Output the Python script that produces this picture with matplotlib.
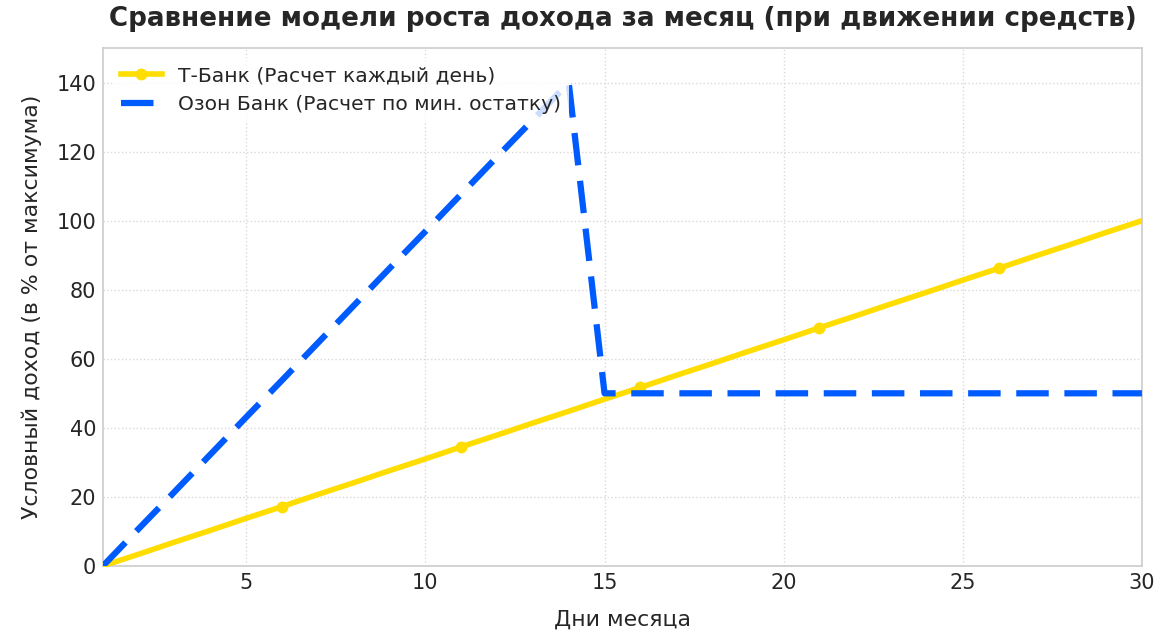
import numpy as np
import matplotlib.pyplot as plt

# days of month and the two income models (% of max)
days = np.arange(1, 31)
tbank = [0, 3.4, 6.9, 10.3, 13.8, 17.2, 20.7, 24.1, 27.6, 31.0,
         34.5, 37.9, 41.4, 44.8, 48.3, 51.7, 55.2, 58.6, 62.1, 65.5,
         69.0, 72.4, 75.9, 79.3, 82.8, 86.2, 89.7, 93.1, 96.6, 100]
ozon = [0, 10.8, 21.5, 32.3, 43.1, 53.8, 64.6, 75.4, 86.2, 96.9,
        107.7, 118.5, 129.2, 140, 50, 50, 50, 50, 50, 50,
        50, 50, 50, 50, 50, 50, 50, 50, 50, 50]
xticks = [5, 10, 15, 20, 25, 30]
yticks = [0, 20, 40, 60, 80, 100, 120, 140]

txt = '#262626'
plt.rcParams['font.family'] = ['DejaVu Sans']

fig = plt.figure(figsize=(11.7, 6.33), dpi=100)
ax = fig.add_axes([0.088, 0.106, 0.888, 0.818])

ax.plot(days, tbank, color='#FFDD00', lw=4, marker='o', markevery=5, ms=7.5,
        label='Т-Банк (Расчет каждый день)', zorder=3)
ax.plot(days, ozon, color='#005BFF', lw=4.5, ls='--', dashes=(5.2, 2.5),
        label='Озон Банк (Расчет по мин. остатку)', zorder=4)

ax.set_xlim(1, 30)
ax.set_ylim(0, 150)
ax.set_xticks(xticks)
ax.set_yticks(yticks)
ax.tick_params(length=0, labelsize=15, colors=txt, pad=5)
ax.grid(True, ls=':', color='#d9d9d9', lw=1)
for s in ax.spines.values():
    s.set_color('#cccccc')
    s.set_linewidth(1.2)

ax.set_title('Сравнение модели роста дохода за месяц (при движении средств)',
             fontsize=18.8, fontweight='bold', color=txt, pad=16)
ax.set_xlabel('Дни месяца', fontsize=15.8, color=txt, labelpad=12)
ax.set_ylabel('Условный доход (в % от максимума)', fontsize=15.8, color=txt, labelpad=10)

leg = ax.legend(loc='upper left', fontsize=14.6, frameon=True, framealpha=0.8,
                edgecolor='none')
for t in leg.get_texts():
    t.set_color(txt)

fig.savefig('out.png', dpi=100)
